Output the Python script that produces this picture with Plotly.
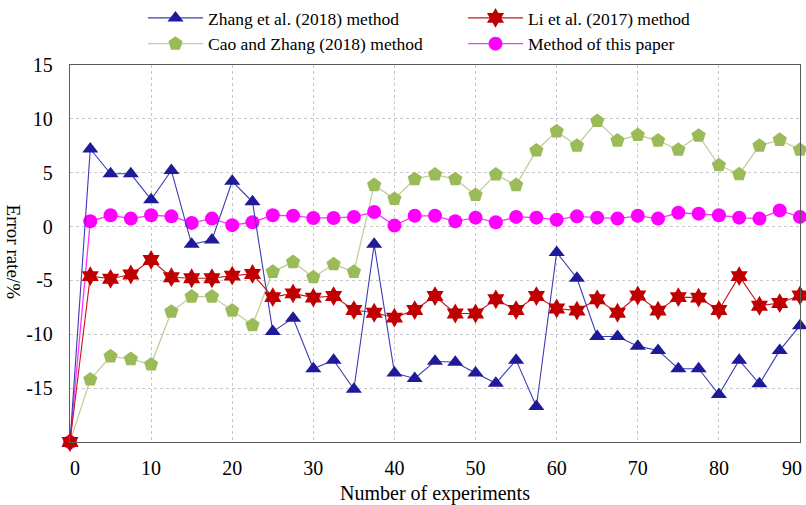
import plotly.graph_objects as go

x_vals = [0, 2.5, 5, 7.5, 10, 12.5, 15, 17.5, 20, 22.5, 25, 27.5, 30, 32.5, 35, 37.5,
          40, 42.5, 45, 47.5, 50, 52.5, 55, 57.5, 60, 62.5, 65, 67.5, 70, 72.5, 75,
          77.5, 80, 82.5, 85, 87.5, 90]

zhang = [-20, 7.2, 4.9, 4.9, 2.5, 5.2, -1.65, -1.25, 4.2, 2.3, -9.75, -8.5, -13.2, -12.4,
         -15.1, -1.65, -13.6, -14.1, -12.5, -12.6, -13.6, -14.55, -12.4, -16.7, -2.4,
         -4.8, -10.2, -10.2, -11.1, -11.5, -13.2, -13.2, -15.6, -12.4, -14.6, -11.5, -9.2]

li = [-20, -4.6, -4.85, -4.45, -3.1, -4.7, -4.8, -4.8, -4.55, -4.4, -6.55, -6.2, -6.6,
      -6.45, -7.75, -8.0, -8.45, -7.75, -6.45, -8.07, -8.07, -6.75, -7.75, -6.45, -7.6,
      -7.8, -6.75, -8.0, -6.4, -7.8, -6.55, -6.6, -7.75, -4.6, -7.35, -7.1, -6.4]

cao = [-20, -14.2, -12.05, -12.3, -12.8, -7.9, -6.5, -6.5, -7.8, -9.15, -4.2, -3.3, -4.7,
       -3.5, -4.2, 3.85, 2.57, 4.4, 4.83, 4.4, 2.94, 4.83, 3.85, 7.06, 8.84, 7.5, 9.8,
       7.98, 8.5, 7.98, 7.13, 8.44, 5.69, 4.86, 7.5, 8.05, 7.13]

paper = [-20, 0.49, 1.05, 0.74, 1.05, 0.95, 0.34, 0.74, 0.13, 0.4, 1.05, 1.0, 0.8, 0.8,
         0.9, 1.35, 0.09, 1.0, 1.0, 0.49, 0.83, 0.4, 0.9, 0.83, 0.64, 0.95, 0.83, 0.74,
         1.0, 0.74, 1.28, 1.2, 1.05, 0.83, 0.74, 1.5, 0.9]

names = ["Zhang et al. (2018) method", "Li et al. (2017) method",
         "Cao and Zhang (2018) method", "Method of this paper"]

y_tickvals = [-15, -10, -5, 0, 5, 10, 15]
y_ticktext = ["-15", "-10", "-5", "0", "5", "10", "15"]
x_tickvals = [0, 10, 20, 30, 40, 50, 60, 70, 80, 90]
x_ticktext = ["\u20070", "10", "20", "30", "40", "50", "60", "70", "80", ""]
x_last_label = "90"
x_title = "Number of experiments"
y_title = "Error rate/%"

FONT = "Liberation Serif, Times New Roman, serif"

fig = go.Figure()

fig.add_trace(go.Scatter(
    x=x_vals, y=cao, name=names[2], mode="lines+markers", legendrank=3,
    line=dict(color="#C3CF9B", width=1.3),
    marker=dict(symbol="pentagon", size=15, color="#9BBB59"),
    cliponaxis=False))
fig.add_trace(go.Scatter(
    x=x_vals, y=paper, name=names[3], mode="lines+markers", legendrank=4,
    line=dict(color="#FF33FF", width=1.3),
    marker=dict(symbol="circle", size=14, color="#FF00FF"),
    cliponaxis=False))
fig.add_trace(go.Scatter(
    x=x_vals, y=zhang, name=names[0], mode="lines+markers", legendrank=1,
    line=dict(color="#3C3CB4", width=1.1),
    marker=dict(symbol="triangle-up", size=14, color="#1F1A9A"),
    cliponaxis=False))
fig.add_trace(go.Scatter(
    x=x_vals, y=li, name=names[1], mode="lines+markers", legendrank=2,
    line=dict(color="#C8141E", width=1.1),
    marker=dict(symbol="hexagram", size=15, color="#C00000"),
    cliponaxis=False))

fig.update_layout(
    width=806, height=505,
    margin=dict(l=70, r=6, t=65, b=63, autoexpand=False),
    paper_bgcolor="white", plot_bgcolor="white",
    font=dict(family=FONT, size=19, color="black"),
    showlegend=True,
    legend=dict(
        orientation="h", xref="container", yref="container",
        x=143 / 806, y=1.0, xanchor="left", yanchor="top",
        entrywidth=250, entrywidthmode="pixels", itemwidth=55,
        font=dict(family=FONT, size=17.5, color="black"),
        bgcolor="rgba(0,0,0,0)", tracegroupgap=0,
    ),
    annotations=[
        dict(text=y_title, textangle=90, xref="paper", yref="paper",
             x=-0.078, y=0.505, xanchor="center", yanchor="middle",
             showarrow=False, font=dict(family=FONT, size=19, color="black")),
        dict(text=x_last_label, xref="x", yref="paper",
             x=x_tickvals[-1], y=0, xanchor="center", yanchor="top",
             xshift=-8, yshift=-13, showarrow=False,
             font=dict(family=FONT, size=20, color="black")),
    ],
)

fig.update_xaxes(
    range=[0, 90], tickvals=x_tickvals, ticktext=x_ticktext, ticks="",
    ticklabeloverflow="allow", ticklabelstandoff=8,
    showgrid=True, gridcolor="#C8C8C8", griddash="dot", gridwidth=1,
    showline=True, linecolor="#5A5A5A", linewidth=1.3, mirror=True,
    zeroline=False, tickfont=dict(size=20), automargin=False,
    title=dict(text=x_title, font=dict(size=20), standoff=8),
)
fig.update_yaxes(
    range=[-20, 15], tickvals=y_tickvals, ticktext=y_ticktext, ticks="",
    ticklabelstandoff=12,
    showgrid=True, gridcolor="#C8C8C8", griddash="dot", gridwidth=1,
    showline=True, linecolor="#5A5A5A", linewidth=1.3, mirror=True,
    zeroline=False, tickfont=dict(size=20), automargin=False,
)

fig.write_html("out.html", config={"displayModeBar": False},
               post_script="document.body.style.margin='0px';"
                           "document.body.style.overflow='hidden';")
